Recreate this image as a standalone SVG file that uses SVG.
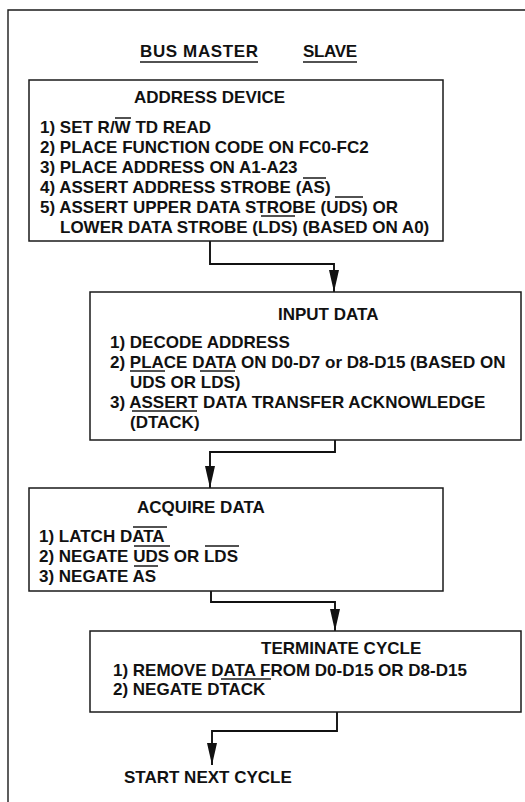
<svg xmlns="http://www.w3.org/2000/svg" width="525" height="802" viewBox="0 0 525 802">
<defs>
<style>
.t{font-family:"Liberation Sans",Arial,Helvetica,sans-serif;font-weight:bold;font-size:17px;fill:#111}
.box{fill:#fff;stroke:#1a1a1a;stroke-width:1.5}
.ln{stroke:#1a1a1a;stroke-width:1.4;fill:none}
.con{stroke:#111;stroke-width:1.9;fill:none}
</style>
<marker id="arr" markerUnits="userSpaceOnUse" markerWidth="23" markerHeight="11" refX="22" refY="5.5" orient="auto">
<path d="M0,0.5 L22,5.5 L0,10.5 z" fill="#111"/>
</marker>
</defs>
<rect width="525" height="802" fill="#fff"/>
<g id="frame">
<path class="ln" d="M8,802 V10 H525"/>
</g>
<g id="header">
<text class="t" x="140" y="57" textLength="118">BUS MASTER</text>
<text class="t" x="303" y="57" textLength="54">SLAVE</text>
<path class="ln" d="M140,62 H258 M303,62 H357"/>
</g>
<g id="connectors">
<path class="con" d="M210,241 V264 H334 V292" marker-end="url(#arr)"/>
<path class="con" d="M335,440 V452 H210 V488" marker-end="url(#arr)"/>
<path class="con" d="M211,591 V602 H335 V631" marker-end="url(#arr)"/>
<path class="con" d="M337,712 V731 H212 V765" marker-end="url(#arr)"/>
</g>
<g id="address-device">
<rect class="box" x="29" y="80" width="414" height="161"/>
<text class="t" x="134" y="103">ADDRESS DEVICE</text>
<text class="t" x="40" y="133">1) SET R/W TD READ</text>
<text class="t" x="40" y="153">2) PLACE FUNCTION CODE ON FC0-FC2</text>
<text class="t" x="40" y="173">3) PLACE ADDRESS ON A1-A23</text>
<text class="t" x="40" y="193">4) ASSERT ADDRESS STROBE (AS)</text>
<text class="t" x="40" y="213">5) ASSERT UPPER DATA STROBE (UDS) OR</text>
<text class="t" x="60" y="233">LOWER DATA STROBE (LDS) (BASED ON A0)</text>
<path class="ln" d="M115,118 H131 M303,178 H326 M335,197 H363 M261,216 H295"/>
</g>
<g id="input-data">
<rect class="box" x="90" y="292" width="431" height="148"/>
<text class="t" x="278" y="320">INPUT DATA</text>
<text class="t" x="110" y="348">1) DECODE ADDRESS</text>
<text class="t" x="110" y="368">2) PLACE DATA ON D0-D7 or D8-D15 (BASED ON</text>
<text class="t" x="130" y="388">UDS OR LDS)</text>
<text class="t" x="110" y="408">3) ASSERT DATA TRANSFER ACKNOWLEDGE</text>
<text class="t" x="130" y="428">(DTACK)</text>
<path class="ln" d="M130,371 H165 M200,371 H235 M132,411 H197"/>
</g>
<g id="acquire-data">
<rect class="box" x="29" y="488" width="414" height="103"/>
<text class="t" x="137" y="513">ACQUIRE DATA</text>
<text class="t" x="39" y="542">1) LATCH DATA</text>
<text class="t" x="39" y="562">2) NEGATE UDS OR LDS</text>
<text class="t" x="39" y="582">3) NEGATE AS</text>
<path class="ln" d="M133,527 H167 M134,546 H170 M205,546 H239 M134,566 H158"/>
</g>
<g id="terminate-cycle">
<rect class="box" x="90" y="631" width="431" height="81"/>
<text class="t" x="261" y="654">TERMINATE CYCLE</text>
<text class="t" x="113" y="676">1) REMOVE DATA FROM D0-D15 OR D8-D15</text>
<text class="t" x="113" y="695">2) NEGATE DTACK</text>
<path class="ln" d="M221,679 H271"/>
</g>
<g id="start-next">
<text class="t" x="124" y="783">START NEXT CYCLE</text>
</g>
</svg>
